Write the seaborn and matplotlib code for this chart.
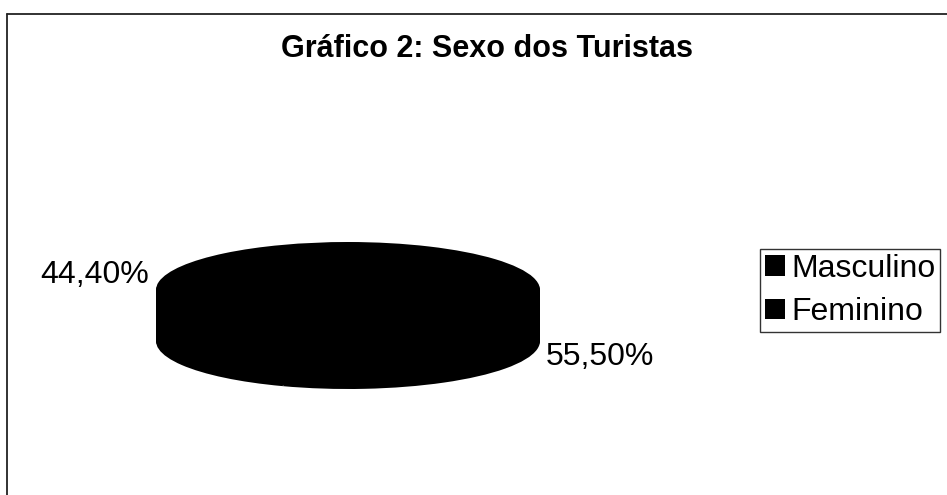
import numpy as np
import matplotlib
matplotlib.use("Agg")
import matplotlib.pyplot as plt
import seaborn as sns
from matplotlib.patches import Patch
from matplotlib import font_manager

sns.set_style("white")

categories = ["Masculino", "Feminino"]
values = [55.5, 44.4]
label_texts = ["55,50%", "44,40%"]
title = "Gráfico 2: Sexo dos Turistas"

names = {f.name for f in font_manager.fontManager.ttflist}
base_font = "Liberation Sans" if "Liberation Sans" in names else "DejaVu Sans"
plt.rcParams["font.family"] = [base_font, "DejaVu Sans"]
plt.rcParams["text.color"] = "black"

W, H = 947, 495
fig = plt.figure(figsize=(W / 100, H / 100), dpi=100)
fig.patch.set_facecolor("white")

# background overlay axes in pixel coordinates
bg = fig.add_axes([0, 0, 1, 1])
bg.set_xlim(0, W)
bg.set_ylim(H, 0)
bg.axis("off")
bg.plot([7, W], [14, 14], color="#222222", lw=1.3)
bg.plot([7, 7], [14, H], color="#222222", lw=1.3)

bg.text(487, 49, title, ha="center", va="center", fontsize=22,
        fontweight="bold", color="black")

# 3D-looking pie: stacked layers of ellipse-shaped pies
cx, cy, a, b, depth = 348, 290, 192, 48, 51
depth_u = depth / b
left = (cx - a) / W
bottom = (H - (cy + b + depth)) / H
pie_ax = fig.add_axes([left, bottom, 2 * a / W, (2 * b + depth) / H])
colors = ["black", "black"]
for c in np.linspace(-depth_u, 0, 40):
    pie_ax.pie(values, center=(0, c), radius=1, colors=colors, startangle=90,
               counterclock=False, wedgeprops=dict(linewidth=0), frame=False)
pie_ax.set_aspect("auto")
pie_ax.set_xlim(-1, 1)
pie_ax.set_ylim(-1 - depth_u, 1)
pie_ax.axis("off")

# data labels
bg.text(546, 357, label_texts[0], ha="left", va="center", fontsize=23, color="black")
bg.text(149, 275, label_texts[1], ha="right", va="center", fontsize=23, color="black")

handles = [Patch(facecolor=c, edgecolor="none") for c in colors]
leg = fig.legend(handles, categories, loc="upper left",
                 bbox_to_anchor=(760 / W, 1 - 249 / H), borderaxespad=0,
                 frameon=True, fancybox=False, edgecolor="black",
                 fontsize=23, handlelength=0.62, handleheight=0.62,
                 handletextpad=0.2, labelspacing=0.42, borderpad=0.15)
leg.get_frame().set_linewidth(1.0)
for t in leg.get_texts():
    t.set_color("black")

fig.savefig("out.png", dpi=100, facecolor="white")
